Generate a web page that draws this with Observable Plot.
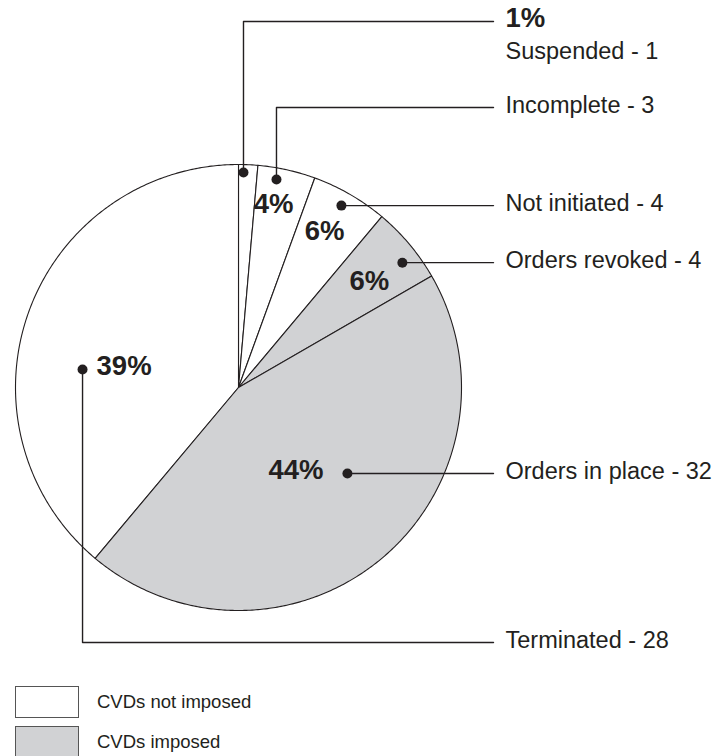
<!DOCTYPE html>
<html>
<head>
<meta charset="utf-8">
<script src="https://cdn.jsdelivr.net/npm/d3@7"></script>
<script src="https://cdn.jsdelivr.net/npm/@observablehq/plot@0.6"></script>
<style>
  html, body { margin: 0; padding: 0; background: #fff; }
  body { width: 716px; height: 756px; overflow: hidden; font-family: "Liberation Sans", Arial, Helvetica, sans-serif; }
  #chart svg { display: block; overflow: visible; }
  .legend { margin-top: 10px; }
  .legend .row { display: flex; align-items: center; height: 32px; margin-bottom: 8px; }
  .legend .sw { box-sizing: border-box; width: 64px; height: 32px; margin-left: 15px; border: 1.5px solid #555; }
  .legend .lab { margin-left: 18px; font-size: 18.5px; color: #231f20; }
</style>
</head>
<body>
<div id="chart"></div>
<div class="legend" id="legend"></div>
<script>
// ---- data ----
const categories = ["Suspended", "Incomplete", "Not initiated", "Orders revoked", "Orders in place", "Terminated"];
const counts = [1, 3, 4, 4, 32, 28];
const percentLabels = ["1%", "4%", "6%", "6%", "44%", "39%"];
const imposed = [false, false, false, true, true, false];
const legendLabels = ["CVDs not imposed", "CVDs imposed"];

// ---- layout (not data) ----
const W = 716, H = 676;
const CX = 238, CY = 387, R = 223;
const FILL_NOT = "#ffffff", FILL_IMP = "#d1d2d4", INK = "#231f20";
const dotAngle = [1.33, 10.35, 29.5, 52.7, 128.3, 276.6];
const dotRadius = [215, 211.4, 209, 206, 138.8, 157];
const rowY = [21, 107, null, null, null, 642];
const LINE_END = 493, LABEL_X = 505;
const pctPlace = [
  {x: LABEL_X, dyRow: -3, anchor: "start"},
  {a: 10.8, r: 187, anchor: "middle"},
  {a: 28.9, r: 178, anchor: "middle"},
  {a: 51.0, r: 168.5, anchor: "middle"},
  {dotDx: -24, anchor: "end"},
  {dotDx: 14, anchor: "start"}
];

const rad = d => d * Math.PI / 180;
const polar = (a, r) => ({x: CX + r * Math.sin(rad(a)), y: CY - r * Math.cos(rad(a))});

// slices from data via d3.pie
const pie = d3.pie().sort(null).value(d => d.count);
const rows = categories.map((c, i) => ({name: c, count: counts[i], imposed: imposed[i], pct: percentLabels[i], i}));
const arcs = pie(rows);
const slicePts = [];
for (const a of arcs) {
  const a0 = a.startAngle * 180 / Math.PI, a1 = a.endAngle * 180 / Math.PI;
  slicePts.push({name: a.data.name, imposed: a.data.imposed, x: CX, y: CY});
  const n = Math.max(2, Math.ceil((a1 - a0) / 0.5));
  for (let k = 0; k <= n; k++) {
    const p = polar(a0 + (a1 - a0) * k / n, R);
    slicePts.push({name: a.data.name, imposed: a.data.imposed, x: p.x, y: p.y});
  }
  slicePts.push({name: a.data.name, imposed: a.data.imposed, x: CX, y: CY});
}

// dots, leaders, labels
const dots = rows.map((d, i) => ({...d, ...polar(dotAngle[i], dotRadius[i])}));
const leaderPts = [];
const nameLabels = [];
const pctLabs = [];
dots.forEach((d, i) => {
  const ry = rowY[i] == null ? d.y : rowY[i];
  leaderPts.push({name: d.name, x: d.x, y: d.y});
  if (rowY[i] != null) leaderPts.push({name: d.name, x: d.x, y: ry});
  leaderPts.push({name: d.name, x: LINE_END, y: ry});
  const isTop = i === 0;
  nameLabels.push({text: `${d.name} - ${d.count}`, x: LABEL_X, y: isTop ? ry + 29.5 : ry - 2});
  const pp = pctPlace[i];
  let px, py;
  if (pp.a != null) { const p = polar(pp.a, pp.r); px = p.x; py = p.y; }
  else if (pp.dotDx != null) { px = d.x + pp.dotDx; py = d.y - 3; }
  else { px = pp.x; py = ry + pp.dyRow; }
  pctLabs.push({text: d.pct, x: px, y: py, anchor: pp.anchor});
});

const plot = Plot.plot({
  width: W, height: H, margin: 0,
  x: {type: "identity", axis: null},
  y: {type: "identity", axis: null},
  style: {background: "#fff", fontFamily: "'Liberation Sans', Arial, Helvetica, sans-serif", overflow: "visible"},
  marks: [
    Plot.line(slicePts.filter(d => !d.imposed), {x: "x", y: "y", z: "name", fill: FILL_NOT, stroke: INK, strokeWidth: 1.1, strokeLinejoin: "round"}),
    Plot.line(slicePts.filter(d => d.imposed), {x: "x", y: "y", z: "name", fill: FILL_IMP, stroke: INK, strokeWidth: 1.1, strokeLinejoin: "round"}),
    Plot.line(leaderPts, {x: "x", y: "y", z: "name", stroke: INK, strokeWidth: 1.4}),
    Plot.dot(dots, {x: "x", y: "y", r: 5, fill: INK, stroke: "none"}),
    Plot.text(nameLabels, {x: "x", y: "y", text: "text", textAnchor: "start", fontSize: 23.5, fill: INK}),
    Plot.text(pctLabs.filter(d => d.anchor === "start"), {x: "x", y: "y", text: "text", textAnchor: "start", fontSize: 27.5, fontWeight: "bold", fill: INK}),
    Plot.text(pctLabs.filter(d => d.anchor === "middle"), {x: "x", y: "y", text: "text", textAnchor: "middle", fontSize: 27.5, fontWeight: "bold", fill: INK}),
    Plot.text(pctLabs.filter(d => d.anchor === "end"), {x: "x", y: "y", text: "text", textAnchor: "end", fontSize: 27.5, fontWeight: "bold", fill: INK})
  ]
});
document.getElementById("chart").appendChild(plot);

// legend
const legend = document.getElementById("legend");
[FILL_NOT, FILL_IMP].forEach((c, i) => {
  const row = document.createElement("div");
  row.className = "row";
  const sw = document.createElement("div");
  sw.className = "sw";
  sw.style.background = c;
  const lab = document.createElement("div");
  lab.className = "lab";
  lab.textContent = legendLabels[i];
  row.appendChild(sw); row.appendChild(lab);
  legend.appendChild(row);
});
</script>
</body>
</html>
